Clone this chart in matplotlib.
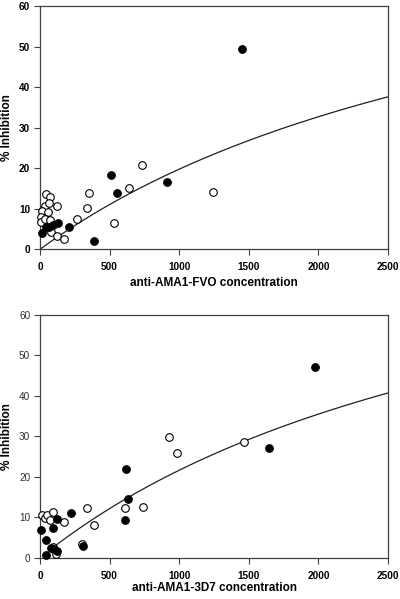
import matplotlib
matplotlib.use("Agg")
import matplotlib.pyplot as plt
import numpy as np

plt.rcParams['font.family'] = ['Liberation Sans', 'DejaVu Sans']

# ---- Top panel (anti-AMA1-FVO) ----
fvo_filled_x = [17, 45, 65, 96, 132, 208, 390, 508, 553, 910, 1449]
fvo_filled_y = [3.9, 5.6, 5.4, 6.0, 6.6, 5.6, 2.0, 18.2, 13.9, 16.6, 49.4]
fvo_open_x = [43, 70, 35, 67, 15, 56, 9, 5, 36, 72, 77, 122, 172, 122, 268, 340, 354, 530, 639, 735, 1241]
fvo_open_y = [13.6, 12.8, 10.8, 11.3, 9.5, 9.3, 8.0, 6.8, 7.4, 7.2, 4.3, 3.2, 2.5, 10.8, 7.4, 10.3, 13.8, 6.6, 15.0, 20.8, 14.1]
fvo_fit_a, fvo_fit_b, fvo_fit_x0, fvo_fit_c = 94.4, 3776, 0, 0.0

# ---- Bottom panel (anti-AMA1-3D7) ----
d37_filled_x = [9, 41, 43, 77, 91, 101, 120, 120, 225, 311, 611, 615, 635, 1648, 1976]
d37_filled_y = [6.8, 4.3, 0.7, 2.3, 7.3, 2.1, 1.7, 9.6, 11.0, 3.0, 9.3, 21.9, 14.6, 27.0, 47.1]
d37_open_x = [12, 36, 53, 72, 96, 91, 112, 175, 304, 335, 390, 608, 742, 929, 982, 1466]
d37_open_y = [10.5, 9.7, 10.5, 9.3, 11.4, 2.6, 1.0, 8.9, 3.4, 12.2, 8.1, 12.3, 12.6, 29.7, 25.9, 28.6]
d37_fit_a, d37_fit_b, d37_fit_x0, d37_fit_c = 96.9, 3662, 77, 2.1

x_ticks = [0, 500, 1000, 1500, 2000, 2500]
y_ticks = [0, 10, 20, 30, 40, 50, 60]

fig = plt.figure(figsize=(4.0, 5.99), dpi=100)
ax1 = fig.add_axes([0.10, 0.5838, 0.87, 0.4062])
ax2 = fig.add_axes([0.10, 0.0689, 0.87, 0.4057])

spine_col = '#404040'

def style(ax, xlabel, ybold, xlab_y):
    ax.set_xlim(0, 2500)
    ax.set_ylim(0, 60)
    ax.set_xticks(x_ticks)
    ax.set_yticks(y_ticks)
    ax.set_xticklabels([str(t) for t in x_ticks], fontsize=7.2, fontweight='bold')
    ax.set_yticklabels([str(t) for t in y_ticks], fontsize=7.2,
                       fontweight='bold' if ybold else 'normal',
                       color='black' if ybold else '#303030')
    for s in ax.spines.values():
        s.set_color(spine_col)
        s.set_linewidth(0.9)
    ax.tick_params(direction='out', length=4, width=0.8, color=spine_col, pad=3,
                   top=False, right=False)
    ax.tick_params(axis='x', pad=5.5)
    ax.set_xlabel(xlabel, fontsize=8.5, fontweight='bold')
    ax.set_ylabel('% Inhibition', fontsize=8.5, fontweight='bold')
    ax.xaxis.set_label_coords(0.5, xlab_y)
    ax.yaxis.set_label_coords(-0.077, 0.5)

def draw(ax, fx, fy, ox, oy, a, b, x0, c):
    xs = np.linspace(x0, 2500, 300)
    u = xs - x0
    ax.plot(xs, c + a * u / (b + u), color='#202020', lw=0.9, zorder=2)
    ax.scatter(ox, oy, s=30, facecolor='white', edgecolor='black', linewidth=0.8, zorder=3, clip_on=False)
    ax.scatter(fx, fy, s=30, facecolor='black', edgecolor='black', linewidth=0.8, zorder=4, clip_on=False)

draw(ax1, fvo_filled_x, fvo_filled_y, fvo_open_x, fvo_open_y, fvo_fit_a, fvo_fit_b, fvo_fit_x0, fvo_fit_c)
draw(ax2, d37_filled_x, d37_filled_y, d37_open_x, d37_open_y, d37_fit_a, d37_fit_b, d37_fit_x0, d37_fit_c)
style(ax1, 'anti-AMA1-FVO concentration', True, -0.115)
style(ax2, 'anti-AMA1-3D7 concentration', False, -0.10)

fig.savefig('out.png', dpi=100)
